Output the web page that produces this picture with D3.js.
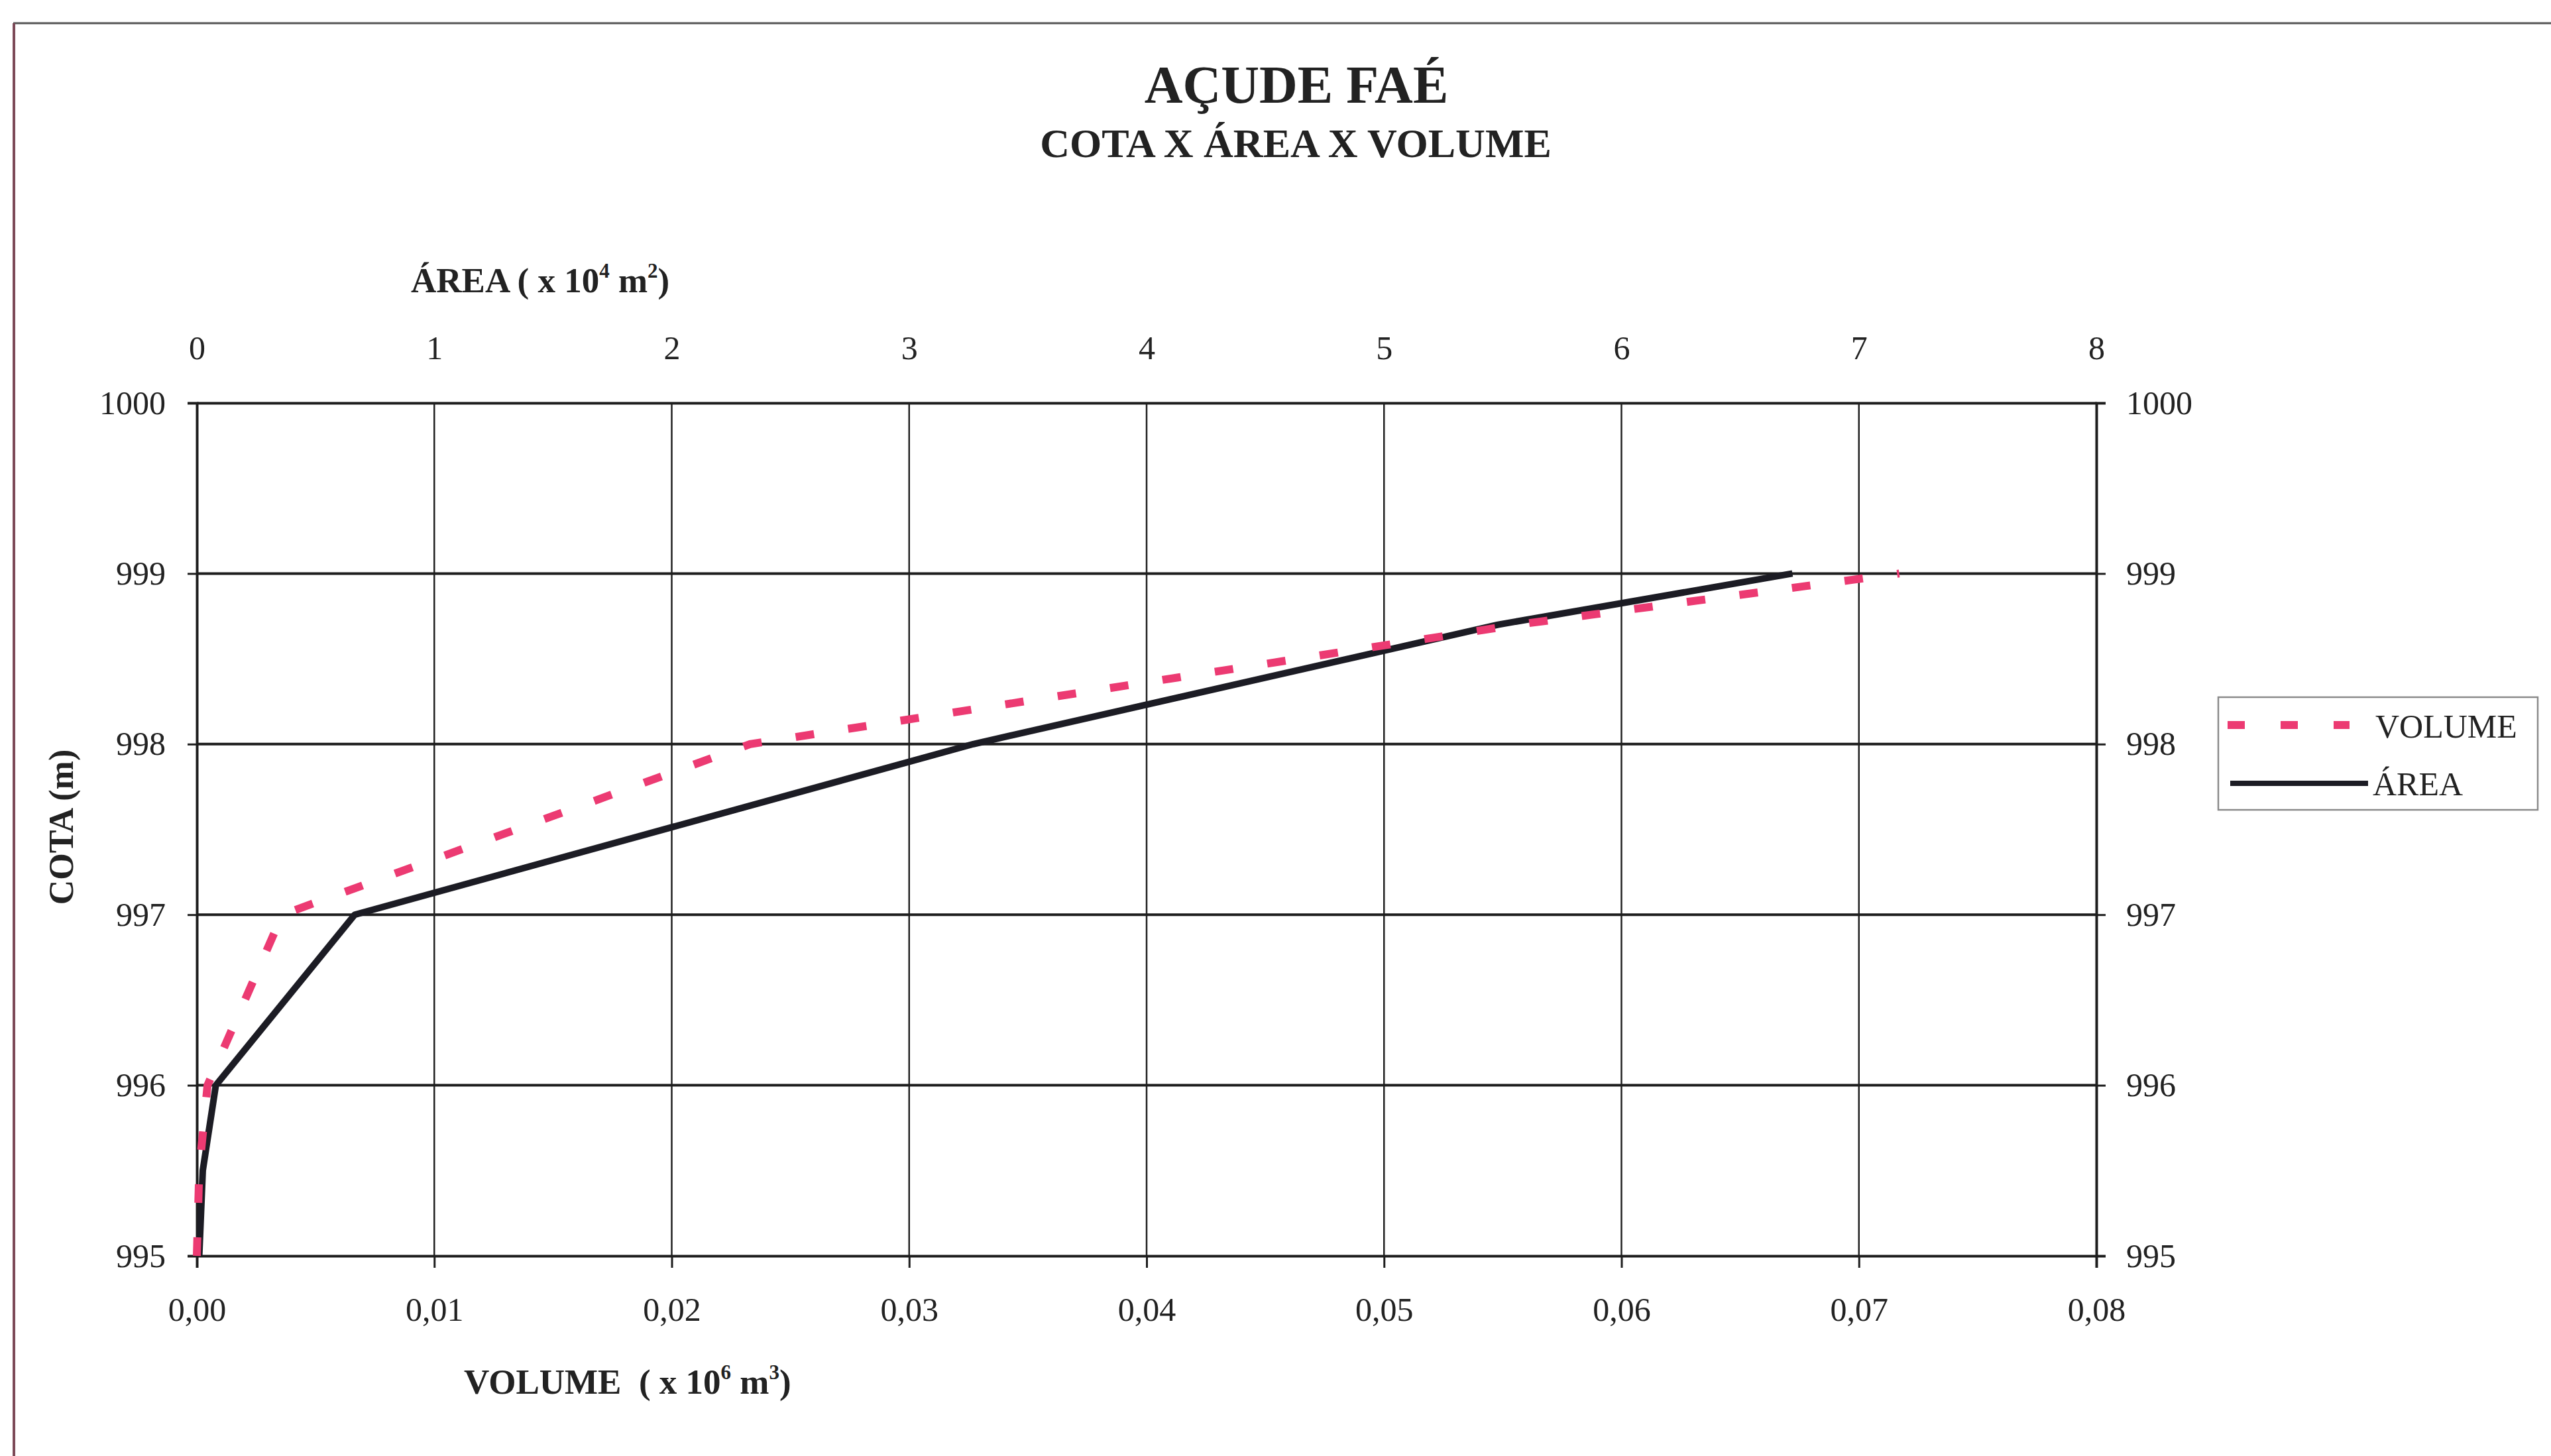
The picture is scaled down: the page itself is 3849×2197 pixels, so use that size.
<!DOCTYPE html>
<html>
<head>
<meta charset="utf-8">
<script src="https://cdn.jsdelivr.net/npm/d3@7"></script>
<style>
  html, body { margin: 0; padding: 0; background: #ffffff; }
  svg { display: block; }
  text { font-family: "Liberation Serif", "Times New Roman", serif; fill: #222; }
</style>
</head>
<body>
<script>
// ---- data ----
const cota = [995, 995.5, 996, 997, 998, 998.7, 999];
const volumeValues = [0, 0.0001, 0.00045, 0.0036, 0.0233, 0.0556, 0.0717]; // x 10^6 m3
const areaValues = [0.01, 0.025, 0.08, 0.665, 3.27, 5.48, 6.72];          // x 10^4 m2
const volumeTicks = [0, 0.01, 0.02, 0.03, 0.04, 0.05, 0.06, 0.07, 0.08];
const areaTicks = [0, 1, 2, 3, 4, 5, 6, 7, 8];
const cotaTicks = [995, 996, 997, 998, 999, 1000];
const seriesNames = ["VOLUME", "ÁREA"];

const W = 3849, H = 2197;
const L = 297, R = 3163, T = 608, B = 1895;

const svg = d3.select("body").append("svg").attr("width", W).attr("height", H);
svg.append("rect").attr("width", W).attr("height", H).attr("fill", "#fff");

// outer border (scanned frame)
svg.append("line").attr("x1", 20).attr("x2", W).attr("y1", 35).attr("y2", 35)
  .attr("stroke", "#555").attr("stroke-width", 3);
svg.append("line").attr("x1", 21).attr("x2", 21).attr("y1", 35).attr("y2", H)
  .attr("stroke", "#7d4a58").attr("stroke-width", 4);

const xV = d3.scaleLinear().domain([0, 0.08]).range([L, R]);
const xA = d3.scaleLinear().domain([0, 8]).range([L, R]);
const y = d3.scaleLinear().domain([995, 1000]).range([B, T]);

// gridlines
svg.append("g").selectAll("line").data(areaTicks.slice(1, -1)).join("line")
  .attr("x1", d => xA(d)).attr("x2", d => xA(d)).attr("y1", T).attr("y2", B)
  .attr("stroke", "#222").attr("stroke-width", 2.5);
svg.append("g").selectAll("line").data(cotaTicks.slice(1, -1)).join("line")
  .attr("x1", L).attr("x2", R).attr("y1", d => y(d)).attr("y2", d => y(d))
  .attr("stroke", "#1e1e1e").attr("stroke-width", 4);

// axes
const fmtV = d => d.toFixed(2).replace(".", ",");
const axB = svg.append("g").attr("transform", `translate(0,${B})`)
  .call(d3.axisBottom(xV).tickValues(volumeTicks).tickFormat(fmtV).tickSize(18).tickPadding(44));
const axT = svg.append("g").attr("transform", `translate(0,${T})`)
  .call(d3.axisTop(xA).tickValues(areaTicks).tickFormat(d3.format("d")).tickSize(0).tickPadding(66));
const axL = svg.append("g").attr("transform", `translate(${L},0)`)
  .call(d3.axisLeft(y).tickValues(cotaTicks).tickFormat(d3.format("d")).tickSize(14).tickPadding(33));
const axR = svg.append("g").attr("transform", `translate(${R},0)`)
  .call(d3.axisRight(y).tickValues(cotaTicks).tickFormat(d3.format("d")).tickSize(14).tickPadding(31));
[axB, axT, axL, axR].forEach(g => {
  g.select(".domain").attr("stroke", "#1e1e1e").attr("stroke-width", 4);
  g.selectAll(".tick line").attr("stroke", "#1e1e1e").attr("stroke-width", 3);
  g.selectAll(".tick text").attr("font-family", "Liberation Serif").attr("font-size", 50).attr("fill", "#222");
});

// series
const ptsV = cota.map((c, i) => [volumeValues[i], c]);
const ptsA = cota.map((c, i) => [areaValues[i], c]);
svg.append("path").datum(ptsA)
  .attr("d", d3.line().x(d => xA(d[0])).y(d => y(d[1])))
  .attr("fill", "none").attr("stroke", "#1c1c24").attr("stroke-width", 10)
  .attr("stroke-linejoin", "round");
svg.append("path").datum(ptsV)
  .attr("d", d3.line().x(d => xV(d[0])).y(d => y(d[1])))
  .attr("fill", "none").attr("stroke", "#ec3a72").attr("stroke-width", 12)
  .attr("stroke-dasharray", "28,52");

// titles
svg.append("text").attr("x", 1956).attr("y", 155).attr("text-anchor", "middle")
  .attr("font-size", 80).attr("font-weight", "bold").text("AÇUDE FAÉ");
svg.append("text").attr("x", 1955).attr("y", 237).attr("text-anchor", "middle")
  .attr("font-size", 62).attr("font-weight", "bold").text("COTA X ÁREA X VOLUME");

function supLabel(x, yy, parts, anchor) {
  const t = svg.append("text").attr("x", x).attr("y", yy).attr("text-anchor", anchor)
    .attr("font-size", 53).attr("font-weight", "bold").attr("xml:space", "preserve")
    .style("white-space", "pre");
  parts.forEach(p => {
    const s = t.append("tspan").text(p.t);
    if (p.sup) s.attr("font-size", 31).attr("dy", -22);
    else if (p.after) s.attr("dy", 22);
  });
  return t;
}
supLabel(620, 441, [{t: "ÁREA ( x 10"}, {t: "4", sup: true}, {t: " m", after: true}, {t: "2", sup: true}, {t: ")", after: true}], "start");
supLabel(700, 2103, [{t: "VOLUME  ( x 10"}, {t: "6", sup: true}, {t: " m", after: true}, {t: "3", sup: true}, {t: ")", after: true}], "start");

svg.append("text").attr("transform", "translate(110,1248) rotate(-90)")
  .attr("text-anchor", "middle").attr("font-size", 52).attr("font-weight", "bold").text("COTA (m)");

// legend
const lg = svg.append("g");
lg.append("rect").attr("x", 3347).attr("y", 1052).attr("width", 482).attr("height", 170)
  .attr("fill", "#fff").attr("stroke", "#8a8a8a").attr("stroke-width", 2.5);
lg.append("line").attr("x1", 3361).attr("x2", 3545).attr("y1", 1094).attr("y2", 1094)
  .attr("stroke", "#ec3a72").attr("stroke-width", 12).attr("stroke-dasharray", "26,54");
lg.append("line").attr("x1", 3365).attr("x2", 3573).attr("y1", 1182).attr("y2", 1182)
  .attr("stroke", "#1c1c24").attr("stroke-width", 8);
lg.append("text").attr("x", 3584).attr("y", 1113).attr("font-size", 50).text(seriesNames[0]);
lg.append("text").attr("x", 3580).attr("y", 1200).attr("font-size", 50).text(seriesNames[1]);
</script>
</body>
</html>
